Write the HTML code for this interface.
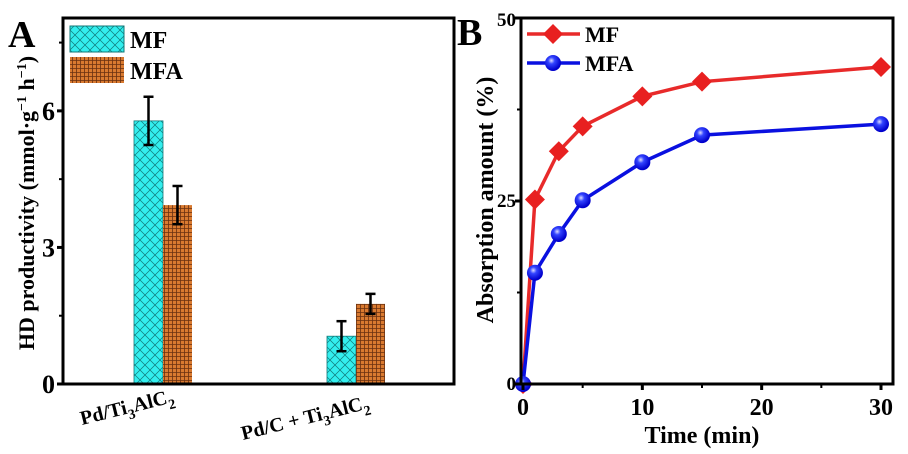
<!DOCTYPE html>
<html><head><meta charset="utf-8"><style>
html,body{margin:0;padding:0;background:#fff;width:908px;height:454px;overflow:hidden}
svg{display:block;font-family:"Liberation Serif",serif;font-weight:bold}
</style></head><body>
<svg id="c" width="908" height="454" viewBox="0 0 908 454">
<defs>
<pattern id="hatch" width="10" height="10" patternUnits="userSpaceOnUse">
<rect width="10" height="10" fill="#33eeee"/>
<path d="M0,0L10,10M10,0L0,10" stroke="#117777" stroke-width="0.7"/>
</pattern>
<pattern id="brick" width="4" height="4" patternUnits="userSpaceOnUse">
<rect width="4" height="4" fill="#d97a30"/>
<path d="M0,0.5H4M0.5,0V4" stroke="#6a3010" stroke-width="0.8"/>
</pattern>
<radialGradient id="ball" cx="0.4" cy="0.35" r="0.6">
<stop offset="0" stop-color="#ddddff"/><stop offset="0.35" stop-color="#3344ff"/><stop offset="1" stop-color="#0000cc"/>
</radialGradient>
</defs>
<g id="A"></g>
<g id="B"></g>
<text x="8" y="47" font-size="38">A</text>
<text x="457" y="45" font-size="38">B</text>
</svg>
<script>
const NS='http://www.w3.org/2000/svg';
// Panel A data
const groups=['Pd/Ti3AlC2','Pd/C + Ti3AlC2'];
const mfVals=[5.78,1.05];
const mfErr=[0.53,0.33];
const mfaVals=[3.93,1.76];
const mfaErr=[0.42,0.22];
const aTicks=[0,3,6];
// Panel B data
const times=[0,1,3,5,10,15,30];
const mfAbs=[0,25.2,31.8,35.2,39.3,41.3,43.3];
const mfaAbs=[0,15.2,20.5,25.1,30.3,34.0,35.5];
const bYTicks=[0,25,50];
const bXTicks=[0,10,20,30];

function mk(tag,attrs,parent,text){const e=document.createElementNS(NS,tag);for(const k in attrs)e.setAttribute(k,attrs[k]);if(text!==undefined)e.textContent=text;parent.appendChild(e);return e;}

// ---- Panel A ----
const A=document.getElementById('A');
const aL=63,aR=454,aT=18,aB=384,aMax=8.04;
const ay=v=>aB-(v/aMax)*(aB-aT);
const gCenters=[163,356];
const bw=29;
for(let i=0;i<groups.length;i++){
 const c=gCenters[i];
 let r=mk('rect',{x:c-bw,y:ay(mfVals[i]),width:bw,height:aB-ay(mfVals[i]),fill:'url(#hatch)',stroke:'#117777','stroke-width':0.8},A);
 
 
 r=mk('rect',{x:c,y:ay(mfaVals[i]),width:bw,height:aB-ay(mfaVals[i]),fill:'url(#brick)'},A);
 
 
 [[c-bw/2,mfVals[i],mfErr[i],'mf'],[c+bw/2,mfaVals[i],mfaErr[i],'mfa']].forEach(([x,v,e,n])=>{
  const g=mk('g',{stroke:'#000','stroke-width':2.5},A);
  
  
  mk('line',{x1:x,x2:x,y1:ay(v+e),y2:ay(v-e)},g);
  mk('line',{x1:x-5,x2:x+5,y1:ay(v+e),y2:ay(v+e)},g);
  mk('line',{x1:x-5,x2:x+5,y1:ay(v-e),y2:ay(v-e)},g);
 });
}
let fr=mk('rect',{x:aL,y:aT,width:aR-aL,height:aB-aT,fill:'none',stroke:'#000','stroke-width':3},A);


aTicks.forEach(t=>{
 mk('line',{x1:aL-6,x2:aL,y1:ay(t),y2:ay(t),stroke:'#000','stroke-width':3},A);
 const tx=mk('text',{x:aL-8,y:ay(t)+9,'font-size':26,'text-anchor':'end'},A,t);
 
 
});
[1.5,4.5,7.5].forEach(t=>mk('line',{x1:aL-4,x2:aL,y1:ay(t),y2:ay(t),stroke:'#000','stroke-width':2},A));
let yt=mk('text',{transform:'translate(34,203) rotate(-90)','font-size':22,'text-anchor':'middle'},A);


yt.innerHTML='HD productivity (mmol·g<tspan dy="-8" font-size="14">−1</tspan><tspan dy="8"> h</tspan><tspan dy="-8" font-size="14">−1</tspan><tspan dy="8">)</tspan>';
let xl=mk('text',{transform:'translate(82,425) rotate(-14)','font-size':20},A);


xl.innerHTML='Pd/Ti<tspan dy="6" font-size="14">3</tspan><tspan dy="-6">AlC</tspan><tspan dy="6" font-size="14">2</tspan>';
xl=mk('text',{transform:'translate(243,440) rotate(-14)','font-size':20},A);


xl.innerHTML='Pd/C + Ti<tspan dy="6" font-size="14">3</tspan><tspan dy="-6">AlC</tspan><tspan dy="6" font-size="14">2</tspan>';
let lg=mk('g',{},A);


mk('rect',{x:70,y:26,width:54,height:26,fill:'url(#hatch)',stroke:'#117777'},lg);
mk('text',{x:130,y:48,'font-size':24},lg,'MF');
mk('rect',{x:70,y:57,width:54,height:26,fill:'url(#brick)'},lg);
mk('text',{x:130,y:79,'font-size':24},lg,'MFA');

// ---- Panel B ----
const B=document.getElementById('B');
const bL=521,bR=893,bT=18,bB=384,x0=523,x30=881;
const bx=t=>x0+t/30*(x30-x0);
const by=v=>bB-v/50*(bB-bT);
function series(vals,color,name,marker){
 const pts=times.map((t,i)=>bx(t)+','+by(vals[i])).join(' ');
 const pl=mk('polyline',{points:pts,fill:'none',stroke:color,'stroke-width':3.5},B);
 
 
 times.forEach((t,i)=>{
  let m;
  if(marker==='d'){const x=bx(t),y=by(vals[i]);m=mk('polygon',{points:`${x},${y-10} ${x+10},${y} ${x},${y+10} ${x-10},${y}`,fill:'#e82020'},B);}
  else m=mk('circle',{cx:bx(t),cy:by(vals[i]),r:8,fill:'url(#ball)'},B);
  
  
 });
}
series(mfAbs,'#e82a2a','mf','d');
series(mfaAbs,'#0a10e0','mfa','c');
fr=mk('rect',{x:bL,y:bT,width:bR-bL,height:bB-bT,fill:'none',stroke:'#000','stroke-width':3},B);


bYTicks.forEach(t=>{
 mk('line',{x1:bL-6,x2:bL,y1:by(t),y2:by(t),stroke:'#000','stroke-width':3},B);
 const tx=mk('text',{x:bL-5,y:by(t)+(t===50?8:6),'font-size':19,'text-anchor':'end'},B,t);
 
 
});
[12.5,37.5].forEach(t=>mk('line',{x1:bL-4,x2:bL,y1:by(t),y2:by(t),stroke:'#000','stroke-width':2},B));
bXTicks.forEach(t=>{
 mk('line',{x1:bx(t),x2:bx(t),y1:bB,y2:bB+6,stroke:'#000','stroke-width':3},B);
 const tx=mk('text',{x:bx(t),y:bB+31,'font-size':24,'text-anchor':'middle'},B,t);
 
 
});
[5,15,25].forEach(t=>mk('line',{x1:bx(t),x2:bx(t),y1:bB,y2:bB+4,stroke:'#000','stroke-width':2},B));
let t1=mk('text',{x:702,y:443,'font-size':24,'text-anchor':'middle'},B,'Time (min)');


let t2=mk('text',{transform:'translate(493,200) rotate(-90)','font-size':24,'text-anchor':'middle'},B,'Absorption amount (%)');


lg=mk('g',{},B);


mk('line',{x1:527,x2:580,y1:34,y2:34,stroke:'#e82a2a','stroke-width':3.5},lg);
mk('polygon',{points:'553,24 563,34 553,44 543,34',fill:'#e82020'},lg);
mk('text',{x:585,y:42,'font-size':22},lg,'MF');
mk('line',{x1:527,x2:580,y1:63,y2:63,stroke:'#0a10e0','stroke-width':3.5},lg);
mk('circle',{cx:553,cy:63,r:8,fill:'url(#ball)'},lg);
mk('text',{x:585,y:71,'font-size':22},lg,'MFA');
</script>
</body></html>
